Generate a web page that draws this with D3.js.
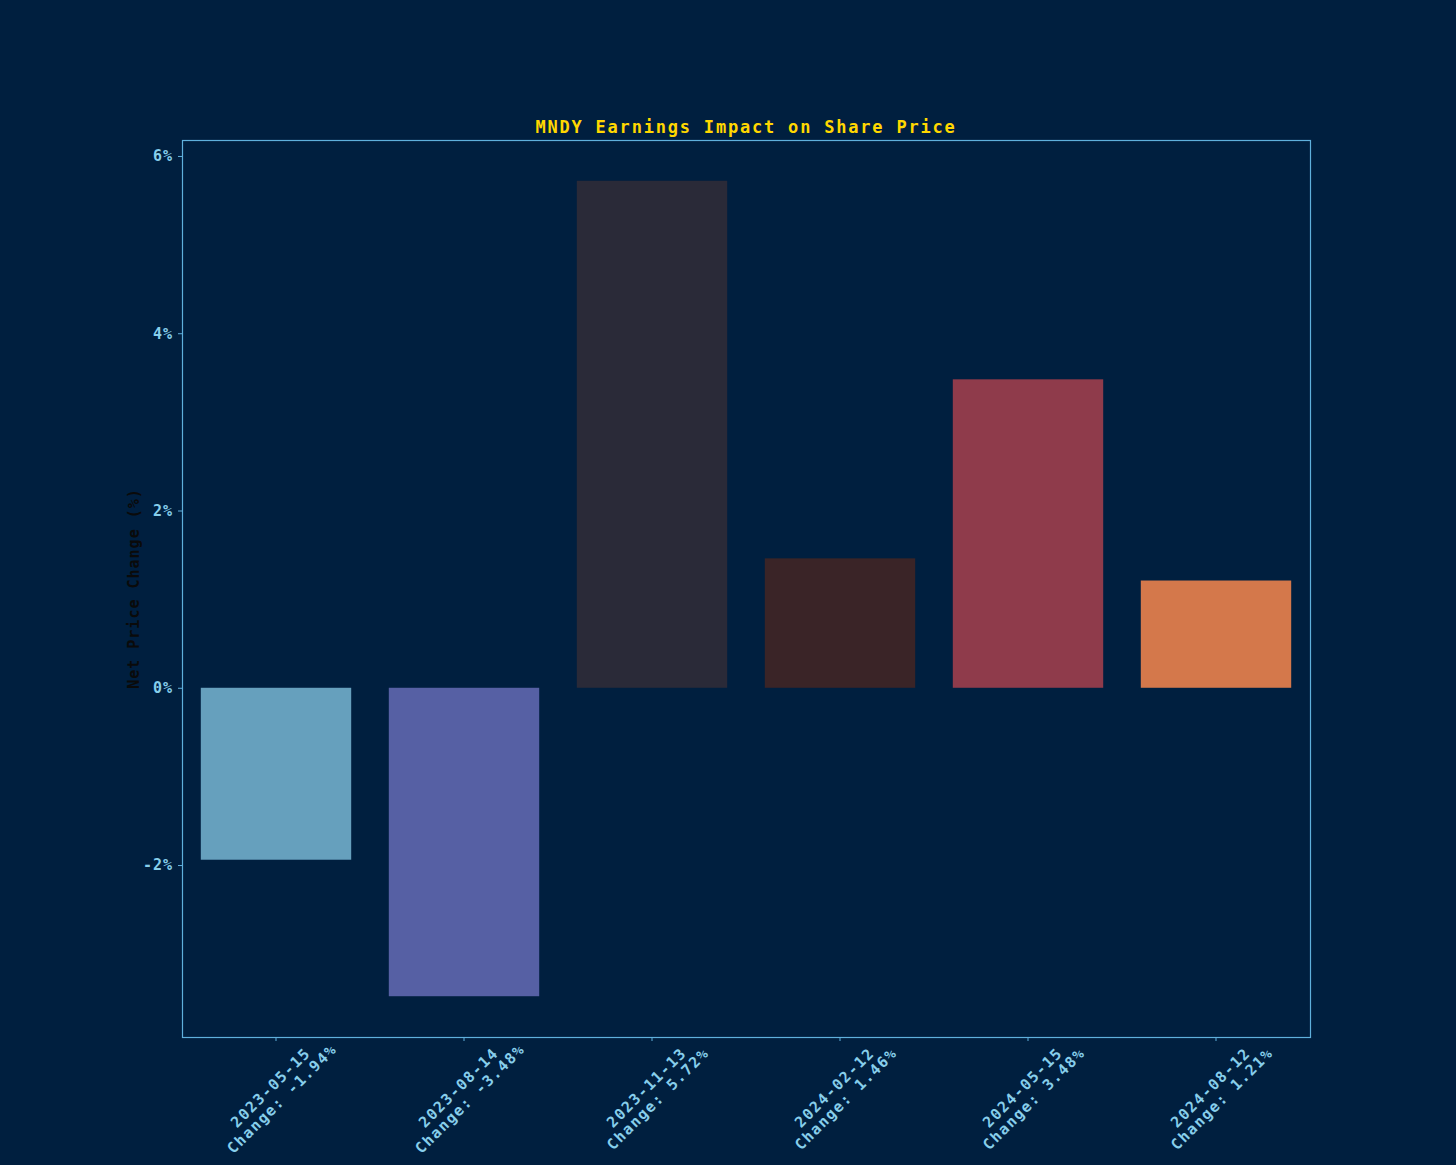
<!DOCTYPE html>
<html>
<head>
<meta charset="utf-8">
<script src="https://cdn.jsdelivr.net/npm/d3@7"></script>
<style>
  html, body { margin: 0; padding: 0; background: #001f3f; }
  svg text { font-family: 'DejaVu Sans Mono', 'Liberation Mono', monospace; }
</style>
</head>
<body>
<div id="chart"></div>
<script>
// earnings dates and the net move after each report
const dates = ['2023-05-15', '2023-08-14', '2023-11-13', '2024-02-12', '2024-05-15', '2024-08-12']
const changes = [-1.94, -3.48, 5.72, 1.46, 3.48, 1.21]
const barColors = ['#66a0bd', '#5660a4', '#2a2a38', '#3a2427', '#8f3b4b', '#d4784b']
const yTicks = [-2, 0, 2, 4, 6]

const width = 1456
const height = 1165
const margin = { top: 140, right: 146, bottom: 128, left: 182 }

const svg = d3.select('#chart').append('svg')
  .attr('width', width)
  .attr('height', height)

svg.append('rect')
  .attr('width', width)
  .attr('height', height)
  .attr('fill', '#001f3f')

const x = d3.scaleBand()
  .domain(dates)
  .range([margin.left, width - margin.right])
  .paddingInner(0.2)
  .paddingOuter(0.1)

// matplotlib style 5% margin around the data range
const lo = d3.min(changes)
const hi = d3.max(changes)
const pad = (hi - lo) * 0.05
const y = d3.scaleLinear()
  .domain([lo - pad, hi + pad])
  .range([height - margin.bottom, margin.top])

const axisColor = '#5fb0dc'
const labelColor = '#87ceeb'

svg.selectAll('rect.bar')
  .data(changes)
  .enter()
  .append('rect')
  .attr('class', 'bar')
  .attr('x', (d, i) => x(dates[i]))
  .attr('width', x.bandwidth())
  .attr('y', d => y(Math.max(0, d)))
  .attr('height', d => Math.abs(y(d) - y(0)))
  .attr('fill', (d, i) => barColors[i])

// y axis
const yAxis = svg.append('g')
  .attr('transform', `translate(${margin.left},0)`)
  .call(d3.axisLeft(y).tickValues(yTicks).tickSize(4).tickPadding(5).tickFormat(d => `${d}%`))
yAxis.select('.domain').remove()
yAxis.selectAll('line').attr('stroke', axisColor)
yAxis.selectAll('text')
  .attr('fill', labelColor)
  .style('font-size', '15px')
  .style('font-weight', 'bold')
  .style('letter-spacing', '1px')

// x axis with two-line rotated labels
const xAxis = svg.append('g')
  .attr('transform', `translate(0,${height - margin.bottom})`)
  .call(d3.axisBottom(x).tickSize(4).tickFormat(''))
xAxis.select('.domain').remove()
xAxis.selectAll('line').attr('stroke', axisColor)

const xLabels = svg.append('g')
  .selectAll('text')
  .data(dates)
  .enter()
  .append('text')
  .attr('transform', d => `translate(${x(d) + x.bandwidth() / 2 + 1},${height - margin.bottom + 57}) rotate(-45)`)
  .attr('text-anchor', 'middle')
  .attr('fill', labelColor)
  .style('font-size', '15px')
  .style('font-weight', 'bold')
  .style('letter-spacing', '1.5px')

xLabels.append('tspan')
  .attr('x', 0)
  .attr('y', -4)
  .text(d => d)

xLabels.append('tspan')
  .attr('x', 0)
  .attr('y', 12)
  .text((d, i) => `Change: ${changes[i].toFixed(2)}%`)

// frame
svg.append('rect')
  .attr('x', margin.left + 0.5)
  .attr('y', margin.top + 0.5)
  .attr('width', width - margin.left - margin.right)
  .attr('height', height - margin.top - margin.bottom)
  .attr('fill', 'none')
  .attr('stroke', axisColor)
  .attr('stroke-width', 1.2)

svg.append('text')
  .attr('x', (margin.left + width - margin.right) / 2)
  .attr('y', margin.top - 7)
  .attr('text-anchor', 'middle')
  .attr('fill', '#ffd700')
  .style('font-size', '17px')
  .style('font-weight', 'bold')
  .style('letter-spacing', '1.8px')
  .text('MNDY Earnings Impact on Share Price')

svg.append('text')
  .attr('transform', `translate(139,${(margin.top + height - margin.bottom) / 2}) rotate(-90)`)
  .attr('text-anchor', 'middle')
  .attr('fill', '#0a0a0a')
  .style('font-size', '15px')
  .style('font-weight', 'bold')
  .style('letter-spacing', '1px')
  .text('Net Price Change (%)')
</script>
</body>
</html>
